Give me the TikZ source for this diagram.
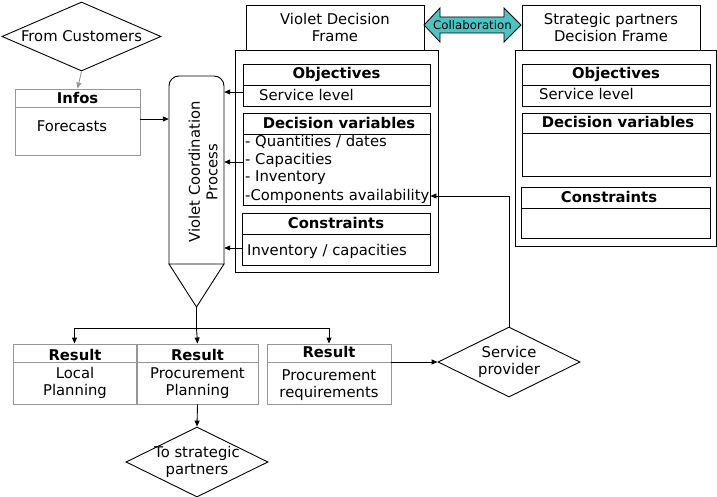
\documentclass[tikz,border=0pt]{standalone}
\usepackage{fontspec}
\setmainfont{DejaVu Sans}
\usetikzlibrary{shapes.geometric,arrows.meta}
\definecolor{collab}{RGB}{77,196,196}
\definecolor{lgray}{RGB}{150,150,150}
\begin{document}
\begin{tikzpicture}[x=1pt,y=-1pt,
  every node/.style={font=\fontsize{14.8}{17.5}\selectfont},
  box/.style={draw, line width=0.9pt, inner sep=0pt},
  gbox/.style={draw=lgray, line width=0.9pt, inner sep=0pt},
  dia/.style={diamond, draw, line width=0.9pt, inner sep=0pt},
  hdr/.style={font=\fontsize{14.8}{17.5}\selectfont\bfseries},
  txt/.style={inner sep=0pt, align=center},
  ltxt/.style={inner sep=0pt, anchor=west},
  arr/.style={line width=0.9pt, -{Triangle[length=6pt,width=5pt]}},
  ln/.style={line width=0.9pt}]
\useasboundingbox (0,0) rectangle (717,497);
% From customers
\node[dia, minimum width=159, minimum height=69] (cust) at (81.5,36.5) {};
\node[txt] at (cust) {From Customers};
% Infos
\node[gbox, minimum width=125, minimum height=66] (infos) at (77.5,122) {};
\draw[lgray, line width=0.9pt] (infos.west |- 0,107) -- (infos.east |- 0,107);
\node[txt, hdr] at (77.5,98) {Infos};
\node[txt] at (72,126) {Forecasts};
\draw[arr, lgray] (cust.south) -- (infos.north);
% Process
\node[minimum width=55, minimum height=188, inner sep=0pt] (proc) at (196.5,170) {};
\draw[ln, rounded corners=10] (169,264) -- (169,76) -- (224,76) -- (224,264);
\draw[ln] (169,264) -- (224,264) -- (196.5,307) -- cycle;
\coordinate (apex) at (196.5,307);
\node[txt, rotate=90] at (203,172) {Violet Coordination\\Process};
\draw[arr] ([yshift=3pt]infos.east) -- (proc.west |- 0,119);
% Violet frame
\node[box, minimum width=178, minimum height=45] (vtitle) at (335,27.5) {};
\node[txt] at (vtitle) {Violet Decision\\Frame};
\node[box, minimum width=203, minimum height=222] (vframe) at (336.5,161) {};
\node[box, minimum width=187, minimum height=42] (vobj) at (336.5,85) {};
\draw[ln] (vobj.west |- 0,85) -- (vobj.east |- 0,85);
\node[txt, hdr] at (336.5,74) {Objectives};
\node[ltxt] (vsvc) at (259,95) {Service level};
\node[box, minimum width=187, minimum height=92] (vdv) at (336.5,159) {};
\draw[ln] (vdv.west |- 0,134) -- (vdv.east |- 0,134);
\node[txt, hdr] at (339,123) {Decision variables};
\node[ltxt] at (245,142) {- Quantities / dates};
\node[ltxt] at (245,160) {- Capacities};
\node[ltxt] at (245,178) {- Inventory};
\node[ltxt] (comp) at (245,196) {-Components availability};
\node[box, minimum width=188, minimum height=52] (vcons) at (336,239) {};
\draw[ln] (vcons.west |- 0,234) -- (vcons.east |- 0,234);
\node[txt, hdr] at (336,223) {Constraints};
\node[ltxt] at (247,251) {Inventory / capacities};
\draw[arr] (vobj.west |- 0,92) -- (proc.east |- 0,92);
\draw[arr] (vdv.west |- 0,162) -- (proc.east |- 0,162);
\draw[arr] (vcons.west |- 0,248) -- (proc.east |- 0,248);
% Collaboration
\draw[line width=0.8pt, fill=collab] (424,25) -- (440,8) -- (440,17) -- (504,17) -- (504,8) -- (521,25) -- (504,42) -- (504,33) -- (440,33) -- (440,42) -- cycle;
\node[txt, font=\fontsize{11.8}{14}\selectfont] (collabtxt) at (472.5,25) {Collaboration};
% Strategic frame
\node[box, minimum width=178, minimum height=45] (stitle) at (611,27.5) {};
\node[txt] at (stitle) {Strategic partners\\Decision Frame};
\node[box, minimum width=201, minimum height=196] (sframe) at (615.5,148) {};
\node[box, minimum width=188, minimum height=42] (sobj) at (616,85) {};
\draw[ln] (sobj.west |- 0,85) -- (sobj.east |- 0,85);
\node[txt, hdr] at (616,74) {Objectives};
\node[ltxt] at (539,94) {Service level};
\node[box, minimum width=188, minimum height=63] (sdv) at (616,144.5) {};
\draw[ln] (sdv.west |- 0,133) -- (sdv.east |- 0,133);
\node[txt, hdr] at (618,122) {Decision variables};
\node[box, minimum width=189, minimum height=51] (scons) at (615.5,212.5) {};
\draw[ln] (scons.west |- 0,208) -- (scons.east |- 0,208);
\node[txt, hdr] at (609,197) {Constraints};
% Results
\node[gbox, minimum width=123, minimum height=60] (r1) at (74.5,374) {};
\node[gbox, minimum width=121, minimum height=60] (r2) at (197.5,374) {};
\node[gbox, minimum width=124, minimum height=60] (r3) at (329,374) {};
\draw[lgray, line width=0.9pt] (r1.west |- 0,362) -- (r2.east |- 0,362);
\draw[lgray, line width=0.9pt] (r3.west |- 0,362) -- (r3.east |- 0,362);
\node[txt, hdr] at (75,355) {Result};
\node[txt] at (75,383) {Local\\Planning};
\node[txt, hdr] at (197.5,355) {Result};
\node[txt] at (197.5,383) {Procurement\\Planning};
\node[txt, hdr] at (329,352) {Result};
\node[txt] at (329,385) {Procurement\\requirements};
\coordinate (split) at (196.5,328);
\draw[ln] (apex) -- (split);
\draw[arr] (split) -| (r1.north);
\draw[arr] (split) -- (r2.north);
\draw[arr] (split) -| (r3.north);
% To strategic partners
\node[dia, minimum width=142, minimum height=70] (tostrat) at (197,462) {};
\node[txt] at (tostrat) {To strategic\\partners};
\draw[arr] (r2.south) -- (tostrat.north);
% Service provider
\node[dia, minimum width=142, minimum height=70] (sp) at (509,362) {};
\node[txt] at (sp) {Service\\provider};
\draw[arr] (r3.east |- 0,362) -- (sp.west);
\draw[arr] (sp.north) |- (vdv.east |- comp);
\end{tikzpicture}
\end{document}
